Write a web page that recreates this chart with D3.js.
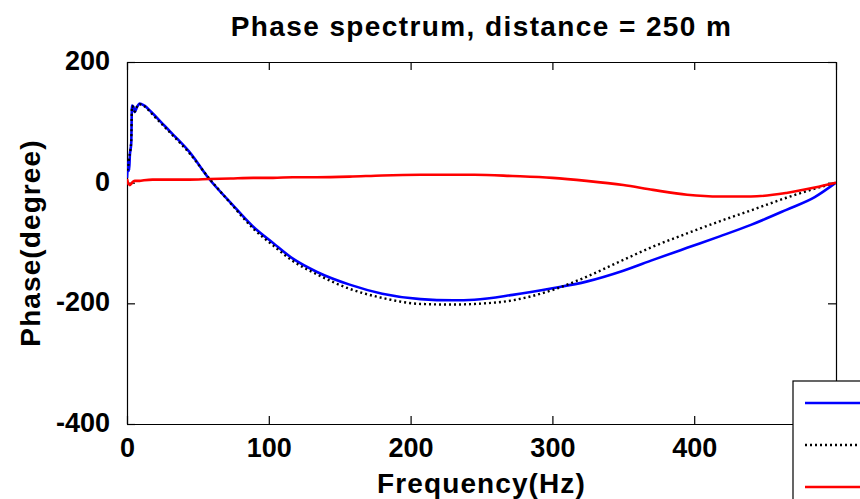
<!DOCTYPE html>
<html>
<head>
<meta charset="utf-8">
<script src="https://cdn.jsdelivr.net/npm/d3@7"></script>
<style>
    body { margin: 0; background: #fff; }
    text { font-family: "Liberation Sans", Arial, sans-serif; font-weight: bold; fill: #000; }
</style>
</head>
<body>
<svg width="860" height="499"></svg>
<script>
// frequency samples (Hz) and phase values (degree)
const freq = [0, 1, 1.5, 2, 3, 3.5, 4.5, 5.5, 7, 9, 12, 18, 25, 32, 44, 58, 73, 89, 103, 117,
    134, 157, 180, 207, 230, 245, 272, 300, 324, 350, 371, 395, 418, 440, 465, 485, 500];
const bluePhase = [8, 35, 20, 45, 66, 128, 126, 117, 125, 131, 128, 115, 98, 81, 51, 6, -33, -73, -100, -126,
    -148, -169, -184, -193, -195, -194, -186, -175, -164, -146, -128, -108, -89, -70, -45, -24, 0];
const blackPhase = [20, 30, 42, 48, 70, 127, 124, 118, 126, 130, 127, 113, 96, 79, 49, 7, -34, -76, -104, -130,
    -152, -176, -191, -201, -202, -201, -195, -178, -156, -128, -106, -84, -64, -46, -25, -10, 0];
const redPhase = [6, -2, -3, -4, -2, 0, 2, 3, 3, 3, 4, 5, 5, 5, 5, 6, 7, 8, 8, 9,
    9, 10, 12, 13, 13, 13, 11, 8, 3, -4, -12, -20, -23, -23, -17, -8, 0];

const xTicks = [0, 100, 200, 300, 400, 500];
const yTicks = [-400, -200, 0, 200];
const xTickLabels = ["0", "100", "200", "300", "400", ""];

const series = [
    { values: bluePhase, color: "#0000ff", dash: null, width: 2.6 },
    { values: blackPhase, color: "#000000", dash: "2,3", width: 2.4 },
    { values: redPhase, color: "#ff0000", dash: null, width: 2.6 }
];

const $svg = d3.select("svg");
const plotL = 127, plotR = 836, plotT = 62, plotB = 424;

const x = d3.scaleLinear().domain([0, 500]).range([plotL, plotR]);
const y = d3.scaleLinear().domain([-400, 200]).range([plotB, plotT]);

$svg.append("rect").attr("width", 860).attr("height", 499).attr("fill", "#fff");

$svg.append("clipPath").attr("id", "plotclip")
    .append("rect")
    .attr("x", plotL).attr("y", plotT)
    .attr("width", plotR - plotL).attr("height", plotB - plotT);

// axes, ticks pointing inward on all four sides
$svg.append("g").attr("transform", `translate(0,${plotB})`)
    .call(d3.axisBottom(x).tickValues(xTicks).tickSizeInner(-8).tickSizeOuter(0)
        .tickPadding(14).tickFormat((d, i) => xTickLabels[i]))
    .call(g => g.selectAll("text").style("font-size", "27px").attr("dy", "0.71em"));
$svg.append("g").attr("transform", `translate(0,${plotT})`)
    .call(d3.axisTop(x).tickValues(xTicks).tickSizeInner(-8).tickSizeOuter(0).tickFormat(""));
$svg.append("g").attr("transform", `translate(${plotL},0)`)
    .call(d3.axisLeft(y).tickValues(yTicks).tickSizeInner(-8).tickSizeOuter(0).tickPadding(17)
        .tickFormat(d => String(d)))
    .call(g => g.selectAll("text").style("font-size", "27px").attr("dy", "0.28em"));
$svg.append("g").attr("transform", `translate(${plotR},0)`)
    .call(d3.axisRight(y).tickValues(yTicks).tickSizeInner(-8).tickSizeOuter(0).tickFormat(""));
$svg.selectAll(".domain, .tick line").attr("stroke", "#000").attr("stroke-width", 1.2);

const line = d3.line().x((d, i) => x(freq[i])).y(d => y(d)).curve(d3.curveMonotoneX);

$svg.append("g").attr("clip-path", "url(#plotclip)")
    .selectAll("path")
    .data(series)
    .join("path")
    .attr("d", d => line(d.values))
    .attr("fill", "none")
    .attr("stroke", d => d.color)
    .attr("stroke-width", d => d.width)
    .attr("stroke-dasharray", d => d.dash)
    .attr("stroke-linejoin", "round");

// titles
$svg.append("text")
    .attr("x", (plotL + plotR) / 2).attr("y", 36)
    .attr("text-anchor", "middle")
    .style("font-size", "28px").style("letter-spacing", "1.4px")
    .text("Phase spectrum, distance = 250 m");
$svg.append("text")
    .attr("x", (plotL + plotR) / 2).attr("y", 493)
    .attr("text-anchor", "middle")
    .style("font-size", "28px").style("letter-spacing", "1.1px")
    .text("Frequency(Hz)");
$svg.append("text")
    .attr("transform", `translate(40,${(plotT + plotB) / 2}) rotate(-90)`)
    .attr("text-anchor", "middle")
    .style("font-size", "28px").style("letter-spacing", "1.1px")
    .text("Phase(degree)");

// legend box, cut off by the right edge of the figure
const legend = $svg.append("g").attr("transform", "translate(793,381)");
legend.append("rect")
    .attr("width", 140).attr("height", 140)
    .attr("fill", "#fff").attr("stroke", "#000").attr("stroke-width", 1.2);
legend.selectAll("line")
    .data(series)
    .join("line")
    .attr("x1", 12).attr("x2", 90)
    .attr("y1", (d, i) => 22 + i * 42).attr("y2", (d, i) => 22 + i * 42)
    .attr("stroke", d => d.color)
    .attr("stroke-width", d => d.width)
    .attr("stroke-dasharray", d => d.dash);
</script>
</body>
</html>
